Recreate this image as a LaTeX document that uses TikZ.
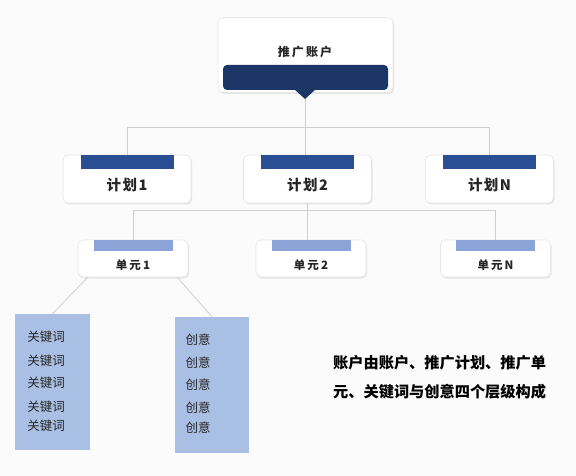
\documentclass[tikz,border=0pt]{standalone}
\usepackage{fontspec}
\setmainfont{Noto Sans CJK SC}
\newfontfamily\spaced[LetterSpace=18]{Noto Sans CJK SC}
\newfontfamily\spacedb[LetterSpace=10]{Noto Sans CJK SC}
\usetikzlibrary{shadows}
\definecolor{bgc}{HTML}{FBFBFB}
\definecolor{topband}{HTML}{1B3667}
\definecolor{planband}{HTML}{2A4E94}
\definecolor{unitband}{HTML}{8AA4D8}
\definecolor{leafc}{HTML}{A9BFE3}
\definecolor{linec}{HTML}{CFCFCF}
\definecolor{edgec}{HTML}{E6E6E6}
\tikzset{
  card/.style={draw=edgec, line width=0.6pt, fill=white, rounded corners=5pt,
    drop shadow={opacity=0.18, shadow xshift=1pt, shadow yshift=-1.5pt}, inner sep=0pt},
  leafbox/.style={fill=leafc, draw=none, inner sep=0pt},
  conn/.style={draw=linec, line width=0.8pt},
  lbl/.style={inner sep=0pt, text=black!85},
}
\begin{document}
\begin{tikzpicture}[x=1pt,y=-1pt]
\useasboundingbox (0,0) rectangle (576,476);
\fill[bgc] (0,0) rectangle (576,476);

% top card
\node[card, minimum width=175pt, minimum height=75pt] (top) at (305.5,55) {};
\fill[topband, rounded corners=4pt] (223,65) -- (388,65) -- (388,90) -- (223,90) -- cycle;
\fill[topband] (294,89) -- (316,89) -- (305,99) -- cycle;
\coordinate (toptip) at (305,99);
\node[lbl, font=\spaced\bfseries\fontsize{12}{14}\selectfont] (toptxt) at (305,52) {推广账户};

% plan cards
\foreach \n/\x/\t in {p1/127/1, p2/307.5/2, pN/489.5/N}{
  \node[card, minimum width=128pt, minimum height=48pt] (\n) at (\x,179) {};
  \fill[planband] (\x-46.5,155.4) rectangle (\x+46.5,169);
  \node[lbl, font=\spacedb\bfseries\fontsize{14.5}{16}\selectfont] (\n txt) at (\x,185) {计划\t};
}

% unit cards
\foreach \n/\x/\t in {u1/133/1, u2/311/2, uN/495.5/N}{
  \node[card, minimum width=110pt, minimum height=37pt] (\n) at (\x,258.5) {};
  \fill[unitband] (\x-39.5,240.4) rectangle (\x+39.5,251);
  \node[lbl, font=\spaced\bfseries\fontsize{11.5}{14}\selectfont] (\n txt) at (\x,265) {单元\t};
}

% leaf boxes
\node[leafbox, minimum width=75pt, minimum height=136pt] (kw) at (52.5,382) {};
\node[leafbox, minimum width=74pt, minimum height=136pt] (cr) at (212,385) {};
\foreach \y/\i in {337/1,361/2,383/3,407/4,426/5}{
  \node[lbl, font=\fontsize{12.5}{14}\selectfont] (kw\i) at (46,\y) {关键词};
}
\foreach \y/\i in {340/1,363/2,385/3,408/4,428/5}{
  \node[lbl, font=\fontsize{12.5}{14}\selectfont] (cr\i) at (198,\y) {创意};
}

% connectors
\coordinate (busL) at (p1.north |- 0,127);
\coordinate (busR) at (pN.north |- 0,127);
\draw[conn] (toptip) -- (toptip |- p2.north);
\draw[conn] (busL) -- (busR);
\draw[conn] (busL) -- (p1.north);
\draw[conn] (busR) -- (pN.north);

\coordinate (bus2L) at (u1.north |- 0,210);
\coordinate (bus2R) at (uN.north |- 0,210);
\draw[conn] (p2.south) -- (p2.south |- u2.north);
\draw[conn] (bus2L) -- (bus2R);
\draw[conn] (bus2L) -- (u1.north);
\draw[conn] (bus2R) -- (uN.north);

\coordinate (u1a) at (88,277);
\coordinate (u1b) at (177,277);
\draw[conn] (u1a) -- (kw.north);
\draw[conn] (u1b) -- (cr.north);

% description
\node[lbl, anchor=west, align=left, text=black, font=\bfseries\fontsize{15.2}{29}\selectfont] (desc) at (333,377.5)
  {账户由账户、推广计划、推广单\\元、关键词与创意四个层级构成};
\end{tikzpicture}
\end{document}
